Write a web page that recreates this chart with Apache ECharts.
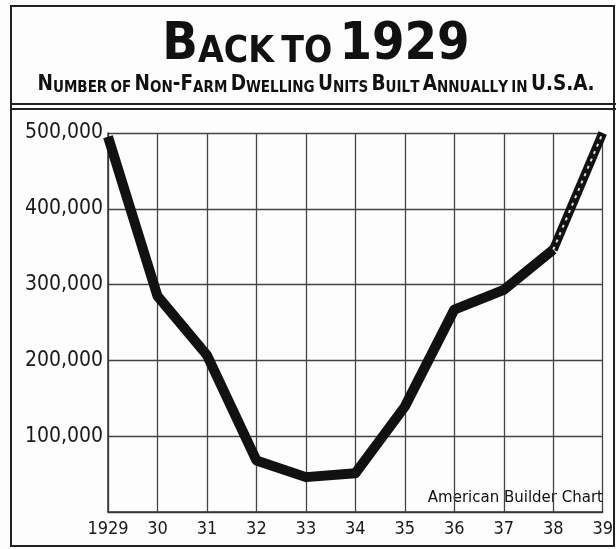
<!DOCTYPE html>
<html><head><meta charset="utf-8">
<script src="https://cdn.jsdelivr.net/npm/echarts@6/dist/echarts.min.js"></script>
<style>html,body{margin:0;padding:0;background:#fff}#c{width:616px;height:549px}</style>
</head><body><div id="c"></div>
<script>
const years = ['1929','30','31','32','33','34','35','36','37','38','39'];
const units = [495000, 285000, 207000, 68000, 46000, 51000, 139000, 267000, 293000, 346000, null];
const projected = [null, null, null, null, null, null, null, null, null, 346000, 500000];
const yTicks = ['', '100,000', '200,000', '300,000', '400,000', '500,000'];
const titleText = 'Back to 1929';
const subtitleText = 'Number of Non-Farm Dwelling Units Built Annually in U.S.A.';
const creditText = 'American Builder Chart';

function smallCaps(s){
  let out = '';
  for (const ch of s){
    if (ch === ' ') { out += '{sp| }'; continue; }
    if (ch >= 'a' && ch <= 'z') out += '{s|' + ch.toUpperCase() + '}';
    else out += '{b|' + ch + '}';
  }
  return out;
}
const ink = '#1a1a1a';
const chart = echarts.init(document.getElementById('c'), null, {renderer:'canvas'});
chart.setOption({
  backgroundColor: '#fdfdfd',
  animation: false,
  grid: {left: 108, right: 9, top: 133, bottom: 37, containLabel: false},
  xAxis: {
    type: 'category', data: years, boundaryGap: false,
    axisLine: {lineStyle: {color: '#333', width: 1.5}},
    axisTick: {show: false},
    axisLabel: {interval: 0, color: ink, fontFamily: 'DejaVu Sans Condensed', fontSize: 18, margin: 8},
    splitLine: {show: true, interval: 0, lineStyle: {color: '#444', width: 1.3}}
  },
  yAxis: {
    type: 'value', min: 0, max: 500000, interval: 100000,
    axisLine: {show: true, lineStyle: {color: '#333', width: 1.5}},
    axisTick: {show: false},
    axisLabel: {color: ink, fontFamily: 'DejaVu Sans Condensed', fontSize: 21, margin: 5,
      formatter: (v) => yTicks[Math.round(v/100000)]},
    splitLine: {show: true, lineStyle: {color: '#444', width: 1.3}}
  },
  series: [
    {type: 'line', data: units, symbol: 'none', connectNulls: false,
     lineStyle: {color: '#111', width: 10, join: 'round', cap: 'butt'}, z: 3},
    {type: 'line', data: projected, symbol: 'none',
     lineStyle: {color: '#111', width: 9, cap: 'butt'}, z: 3},
    {type: 'line', data: projected, symbol: 'none',
     lineStyle: {color: '#ddd', width: 2, type: [3, 5], cap: 'butt'}, z: 4}
  ],
  graphic: [
    {type: 'rect', shape: {x: 11, y: 6, width: 603, height: 540}, style: {fill: 'none', stroke: '#222', lineWidth: 2}, silent: true},
    {type: 'line', shape: {x1: 11, y1: 104, x2: 616, y2: 104}, style: {stroke: '#222', lineWidth: 2}},
    {type: 'line', shape: {x1: 11, y1: 109, x2: 616, y2: 109}, style: {stroke: '#222', lineWidth: 2}},
    {type: 'text', x: 316, y: 45, style: {
      text: smallCaps(titleText), align: 'center', verticalAlign: 'middle',
      rich: {
        b: {fontFamily: 'DejaVu Sans Condensed', fontWeight: 'bold', fontSize: 52, fill: '#111', verticalAlign: 'bottom'},
        s: {fontFamily: 'DejaVu Sans Condensed', fontWeight: 'bold', fontSize: 37, fill: '#111', verticalAlign: 'bottom'},
        sp: {fontSize: 26}
      }}},
    {type: 'text', x: 316, y: 85, style: {
      text: smallCaps(subtitleText), align: 'center', verticalAlign: 'middle',
      rich: {
        b: {fontFamily: 'DejaVu Sans Condensed', fontWeight: 'bold', fontSize: 20.5, fill: '#111', verticalAlign: 'bottom'},
        s: {fontFamily: 'DejaVu Sans Condensed', fontWeight: 'bold', fontSize: 15, fill: '#111', verticalAlign: 'bottom'},
        sp: {fontSize: 12}
      }}},
    {type: 'text', x: 603, y: 498, style: {text: creditText, align: 'right', verticalAlign: 'middle',
      fontFamily: 'DejaVu Sans', fontSize: 15, fill: '#111'}}
  ]
});
</script></body></html>
